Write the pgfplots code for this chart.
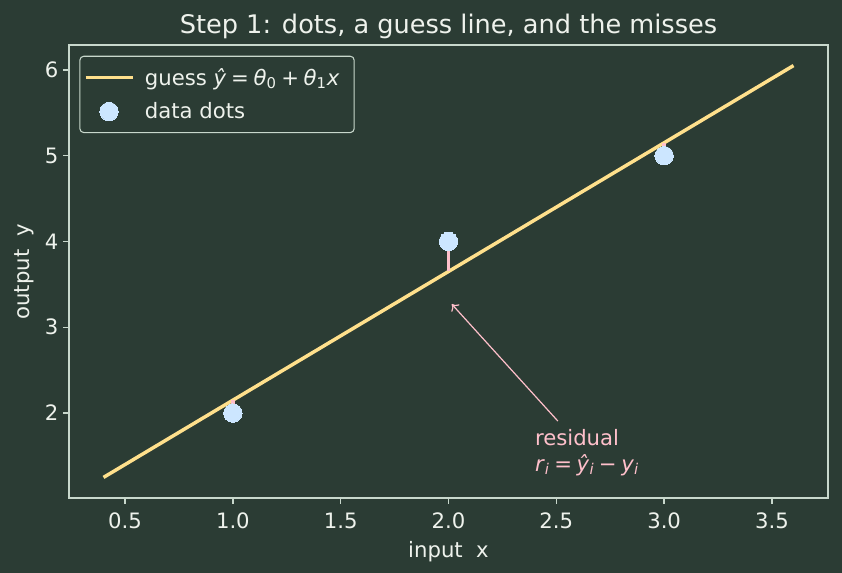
\documentclass[border=0pt]{standalone}
\usepackage{pgfplots}
\pgfplotsset{compat=1.18}
\usepackage{fontspec}
\setmainfont{DejaVu Sans}
\usetikzlibrary{backgrounds,arrows.meta}
\definecolor{bg}{HTML}{2B3C34}
\definecolor{spine}{HTML}{C8D8CC}
\definecolor{txt}{HTML}{EEF2EC}
\definecolor{guess}{HTML}{FFE08C}
\definecolor{dots}{HTML}{CCE6FF}
\definecolor{resid}{HTML}{FFC0CB}
\newcommand{\mfs}{\fontsize{15.9}{19}\selectfont}
\begin{document}
\begin{tikzpicture}
\begin{axis}[
  scale only axis,
  width=569.25pt, height=339.75pt,
  xmin=0.24, xmax=3.76, ymin=1.01, ymax=6.29,
  xtick={0.5,1.0,1.5,2.0,2.5,3.0,3.5},
  ytick={2,3,4,5,6},
  xticklabel style={yshift=-3pt, /pgf/number format/.cd, fixed, fixed zerofill, precision=1},
  /pgf/number format/assume math mode=true,
  xtick pos=bottom, ytick pos=left,
  tick align=outside,
  major tick length=4.4pt,
  axis line style={spine, line width=1pt},
  tick style={spine, line width=1pt},
  ticklabel style={font=\mfs, color=txt},
  label style={font=\mfs, color=txt},
  xlabel={input\ \ x},
  ylabel={output\ \ y},
  xlabel shift=3pt,
  ylabel shift=1.5pt,
  title={Step 1: dots, a guess line, and the misses},
  title style={font=\fontsize{19.2}{23}\selectfont, color=txt, yshift=-5pt},
  legend style={at={(0.0136,0.9764)}, anchor=north west, draw=spine, line width=0.8pt,
    fill=bg, rounded corners=3pt, text=txt, font=\mfs,
    inner xsep=3pt, inner ysep=7pt, row sep=7.5pt,
    nodes={inner xsep=8pt}},
  legend cell align=left,
  legend image code/.code={\draw[mark repeat=2,mark phase=2,#1] plot coordinates {(0pt,0pt) (17.6pt,0pt) (35.2pt,0pt)};},
]
\addplot[guess, line width=2.6pt] coordinates {(0.4,1.25) (3.6,6.05)};
\addlegendentry{guess \textit{ŷ}\hspace{0.22em}=\hspace{0.22em}\textit{θ}\textsubscript{0}\hspace{0.22em}+\hspace{0.22em}\textit{θ}\textsubscript{1}\textit{x}}
\addplot[resid, line width=2.6pt, forget plot] coordinates {(1,2) (1,2.15)};
\addplot[resid, line width=2.6pt, forget plot] coordinates {(2,4) (2,3.65)};
\addplot[resid, line width=2.6pt, forget plot] coordinates {(3,5) (3,5.15)};
\addplot[dots, only marks, mark=*, mark size=6.9pt, mark options={draw=dots, fill=dots, line width=0pt}] coordinates {(1,2) (2,4) (3,5)};
\addlegendentry{data dots}
\draw[resid, line width=0.9pt, -{To[length=4.5pt,width=8pt]}] (axis cs:2.507,1.907) -- (axis cs:2.015,3.27);
\node[anchor=south west, align=left, text=resid, font=\mfs, inner sep=0pt] at (axis cs:2.4,1.27)
  {residual\\\textit{r}\textsubscript{\textit{i}}\hspace{0.22em}=\hspace{0.22em}\textit{ŷ}\textsubscript{\textit{i}}\hspace{0.22em}−\hspace{0.22em}\textit{y}\textsubscript{\textit{i}}};
\end{axis}
\begin{scope}[on background layer]
\fill[bg] ([shift={(-51.75pt,-56.25pt)}]current axis.south west) rectangle ([shift={(10.5pt,33.75pt)}]current axis.north east);
\end{scope}
\end{tikzpicture}
\end{document}
